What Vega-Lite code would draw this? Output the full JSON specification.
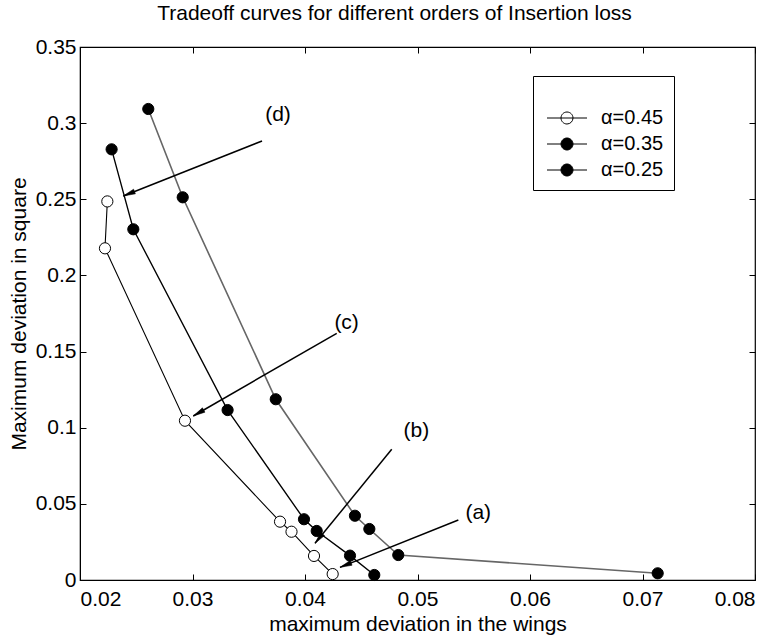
{
  "$schema": "https://vega.github.io/schema/vega-lite/v6.json",
  "width": 675,
  "height": 533,
  "autosize": {"type": "none"},
  "padding": {"left": 80, "top": 47, "right": 21, "bottom": 63},
  "background": "white",
  "title": {
    "text": "Tradeoff curves for different orders of Insertion loss",
    "font": "Liberation Sans",
    "fontSize": 21,
    "fontWeight": "normal",
    "color": "black",
    "offset": 12,
    "dx": -23
  },
  "config": {
    "view": {"stroke": "black", "strokeWidth": 1.2},
    "axis": {
      "domainColor": "black",
      "tickColor": "black",
      "labelColor": "black",
      "titleColor": "black",
      "labelFont": "Liberation Sans",
      "titleFont": "Liberation Sans",
      "labelFontSize": 21,
      "titleFontSize": 21,
      "titleFontWeight": "normal",
      "grid": false
    }
  },
  "datasets": {
    "curves": [
      {"series": "α=0.45", "x": 0.02243, "y": 0.2486},
      {"series": "α=0.45", "x": 0.02222, "y": 0.2178},
      {"series": "α=0.45", "x": 0.02933, "y": 0.1046},
      {"series": "α=0.45", "x": 0.03778, "y": 0.0383},
      {"series": "α=0.45", "x": 0.0388, "y": 0.0317},
      {"series": "α=0.45", "x": 0.0408, "y": 0.0158},
      {"series": "α=0.45", "x": 0.04246, "y": 0.0039},
      {"series": "α=0.35", "x": 0.02281, "y": 0.2828},
      {"series": "α=0.35", "x": 0.02474, "y": 0.2303},
      {"series": "α=0.35", "x": 0.03312, "y": 0.1116},
      {"series": "α=0.35", "x": 0.03991, "y": 0.0399},
      {"series": "α=0.35", "x": 0.04104, "y": 0.0322},
      {"series": "α=0.35", "x": 0.044, "y": 0.016},
      {"series": "α=0.35", "x": 0.04616, "y": 0.0033},
      {"series": "α=0.25", "x": 0.02607, "y": 0.3093},
      {"series": "α=0.25", "x": 0.02913, "y": 0.2513},
      {"series": "α=0.25", "x": 0.0374, "y": 0.1187},
      {"series": "α=0.25", "x": 0.04444, "y": 0.0422},
      {"series": "α=0.25", "x": 0.04572, "y": 0.0335},
      {"series": "α=0.25", "x": 0.04829, "y": 0.0164},
      {"series": "α=0.25", "x": 0.07135, "y": 0.0044}
    ],
    "arrows": [
      {"label": "(d)", "x": 0.03618, "y": 0.2883, "x2": 0.02385, "y2": 0.2522},
      {"label": "(c)", "x": 0.04282, "y": 0.162, "x2": 0.03007, "y2": 0.1077},
      {"label": "(b)", "x": 0.04771, "y": 0.0858, "x2": 0.04089, "y2": 0.0241},
      {"label": "(a)", "x": 0.05363, "y": 0.0394, "x2": 0.04311, "y2": 0.0083}
    ],
    "labels": [
      {"label": "(d)", "x": 0.0376, "y": 0.3053},
      {"label": "(c)", "x": 0.0437, "y": 0.1688},
      {"label": "(b)", "x": 0.0499, "y": 0.098},
      {"label": "(a)", "x": 0.0554, "y": 0.044}
    ]
  },
  "layer": [
    {
      "data": {"name": "curves"},
      "mark": {"type": "line"},
      "encoding": {
        "x": {
          "field": "x", "type": "quantitative",
          "scale": {"domain": [0.02, 0.08], "nice": false, "zero": false},
          "axis": {
            "orient": "bottom",
            "title": "maximum deviation in the wings",
            "values": [0.02, 0.03, 0.04, 0.05, 0.06, 0.07, 0.08],
            "format": "~g",
            "tickSize": -6,
            "labelPadding": 14,
            "titlePadding": 4
          }
        },
        "y": {
          "field": "y", "type": "quantitative",
          "scale": {"domain": [0, 0.35], "nice": false, "zero": false},
          "axis": {
            "orient": "left",
            "title": "Maximum deviation in square",
            "values": [0, 0.05, 0.1, 0.15, 0.2, 0.25, 0.3, 0.35],
            "format": "~g",
            "tickSize": -6,
            "labelPadding": 10,
            "titlePadding": 6
          }
        },
        "order": {"field": "y", "type": "quantitative", "sort": "descending"},
        "detail": {"field": "series", "type": "nominal"},
        "stroke": {
          "field": "series", "type": "nominal",
          "scale": {"domain": ["α=0.45", "α=0.35", "α=0.25"], "range": ["black", "black", "#666666"]},
          "legend": null
        },
        "strokeWidth": {
          "field": "series", "type": "nominal",
          "scale": {"domain": ["α=0.45", "α=0.35", "α=0.25"], "range": [1.1, 1.6, 1.1]},
          "legend": null
        }
      }
    },
    {
      "data": {"name": "curves"},
      "mark": {"type": "point", "shape": "circle", "size": 125, "stroke": "black", "strokeWidth": 1, "opacity": 1, "filled": true},
      "encoding": {
        "x": {"field": "x", "type": "quantitative", "axis": null},
        "y": {"field": "y", "type": "quantitative", "axis": null},
        "fill": {
          "field": "series", "type": "nominal",
          "scale": {"domain": ["α=0.45", "α=0.35", "α=0.25"], "range": ["white", "black", "black"]},
          "legend": {
            "orient": "none",
            "legendX": 453,
            "legendY": 29,
            "title": " ",
            "titleFontSize": 14,
            "titlePadding": 8,
            "padding": 10,
            "strokeColor": "black",
            "fillColor": "white",
            "symbolType": "M-0.75,0 L4.25,0 M1,0 A0.75,0.75 0 1,1 2.5,0 A0.75,0.75 0 1,1 1,0 Z",
            "symbolSize": 256,
            "symbolStrokeColor": "black",
            "symbolStrokeWidth": 1,
            "symbolOpacity": 1,
            "labelOffset": 38,
            "labelFont": "Liberation Sans",
            "labelFontSize": 20,
            "labelColor": "black",
            "rowPadding": 6
          }
        }
      }
    },
    {
      "data": {"name": "arrows"},
      "mark": {"type": "rule", "stroke": "black", "strokeWidth": 1.5},
      "encoding": {
        "x": {"field": "x", "type": "quantitative", "axis": null},
        "y": {"field": "y", "type": "quantitative", "axis": null},
        "x2": {"field": "x2"},
        "y2": {"field": "y2"}
      }
    },
    {
      "data": {"name": "arrows"},
      "transform": [
        {"calculate": "(atan2((datum.x2 - datum.x) * 11250, (datum.y2 - datum.y) * 1522.857) * 180 / PI + 360) % 360", "as": "angle"}
      ],
      "mark": {"type": "point", "shape": "M0,0 L0.5,2.4 L-0.5,2.4 Z", "size": 100, "filled": true, "fill": "black", "stroke": "black", "strokeWidth": 0.5, "opacity": 1},
      "encoding": {
        "x": {"field": "x2", "type": "quantitative", "axis": null},
        "y": {"field": "y2", "type": "quantitative", "axis": null},
        "angle": {"field": "angle", "type": "quantitative", "scale": null}
      }
    },
    {
      "data": {"name": "labels"},
      "mark": {"type": "text", "font": "Liberation Sans", "fontSize": 21, "fill": "black", "align": "center", "baseline": "middle"},
      "encoding": {
        "x": {"field": "x", "type": "quantitative", "axis": null},
        "y": {"field": "y", "type": "quantitative", "axis": null},
        "text": {"field": "label"}
      }
    },
    {
      "data": {"name": "labels"},
      "mark": {"type": "point", "opacity": 0},
      "encoding": {
        "x": {
          "field": "x", "type": "quantitative",
          "axis": {"orient": "top", "title": null, "labels": false, "values": [0.02, 0.03, 0.04, 0.05, 0.06, 0.07, 0.08], "tickSize": -6, "domain": false}
        },
        "y": {
          "field": "y", "type": "quantitative",
          "axis": {"orient": "right", "title": null, "labels": false, "values": [0, 0.05, 0.1, 0.15, 0.2, 0.25, 0.3, 0.35], "tickSize": -6, "domain": false}
        }
      }
    }
  ],
  "resolve": {
    "axis": {"x": "independent", "y": "independent"},
    "legend": {"fill": "independent", "stroke": "independent", "strokeWidth": "independent"}
  }
}
